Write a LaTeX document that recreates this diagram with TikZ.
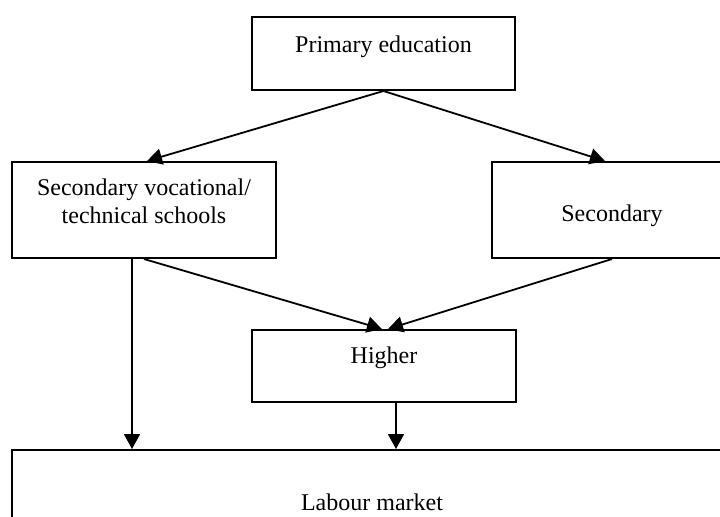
\documentclass[tikz,border=0pt]{standalone}
\usepackage{fontspec}
\setmainfont{Liberation Serif}
\usetikzlibrary{arrows.meta}
\begin{document}
\begin{tikzpicture}[x=0.5pt,y=-0.5pt,
  box/.style={draw, line width=1pt, rectangle, inner sep=0pt},
  txt/.style={font=\fontsize{12}{14}\selectfont, inner sep=0pt, align=center},
  arr/.style={line width=0.9pt, -{Triangle[length=7.5pt,width=8pt]}}]
\useasboundingbox (0,0) rectangle (720,516);
\clip (0,0) rectangle (720,516);
% boxes
\node[box, minimum width=131.5pt, minimum height=36.5pt] (prim) at (383.5,53.5) {};
\node[box, minimum width=132pt, minimum height=48pt] (sv) at (144,210) {};
\node[box, minimum width=120pt, minimum height=48pt] (sec) at (612,210) {};
\node[box, minimum width=132pt, minimum height=36pt] (high) at (384,366) {};
\node[box, minimum width=360pt, minimum height=55pt] (lab) at (372,505) {};
% texts
\node[txt] (tprim) at (383.5,47) {Primary education};
\node[txt] (tsv) at (144,201) {Secondary vocational/\\technical schools};
\node[txt] (tsec) at (612,216) {Secondary};
\node[txt] (thigh) at (384,358) {Higher};
\node[txt] (tlab) at (372,502) {Labour market};
% connectors
\draw[arr] (prim.south) -- ([xshift=1.5pt]sv.north);
\draw[arr] (prim.south) -- ([xshift=-3.5pt]sec.north);
\draw[arr] (sv.south) -- ([xshift=-1pt]high.north);
\draw[arr] (sec.south) -- ([xshift=2pt]high.north);
\draw[arr] ([xshift=-6pt]sv.south) -- ([xshift=-6pt]sv.south |- lab.north);
\draw[arr] ([xshift=6pt]high.south) -- ([xshift=6pt]high.south |- lab.north);
\end{tikzpicture}
\end{document}
